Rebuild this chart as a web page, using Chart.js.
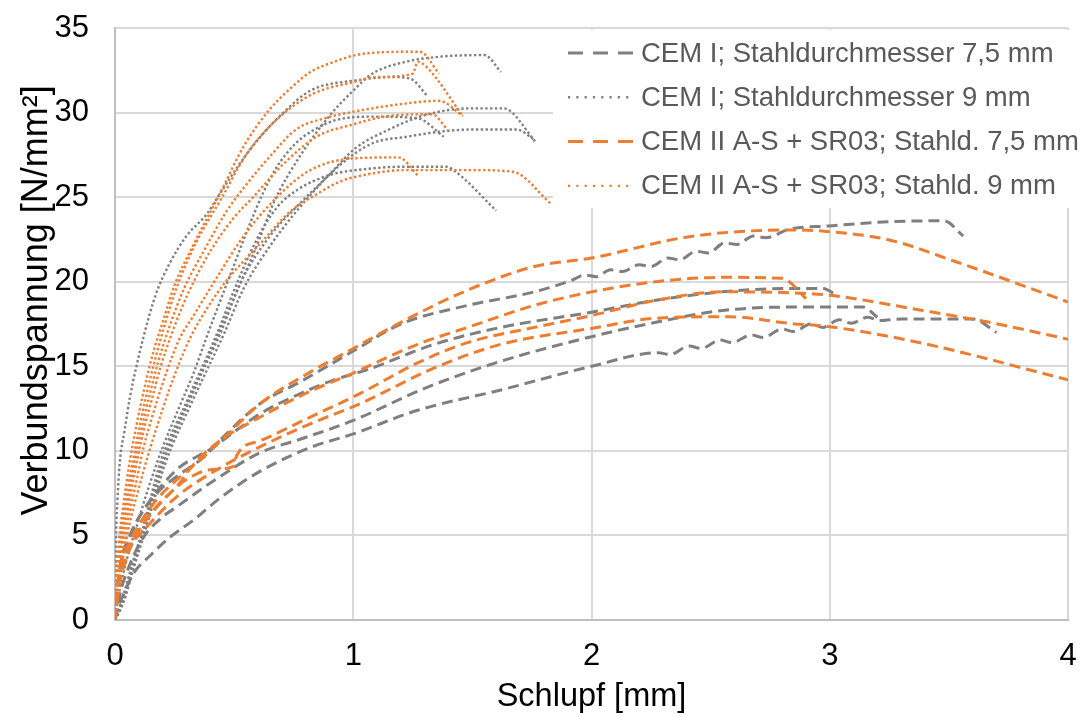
<!DOCTYPE html>
<html>
<head>
<meta charset="utf-8">
<script src="https://cdn.jsdelivr.net/npm/chart.js@4.4.1/dist/chart.umd.min.js"></script>
<style>
  html, body { margin: 0; padding: 0; background: #ffffff; }
  #wrap { width: 1082px; height: 717px; position: relative; }
</style>
</head>
<body>
<div id="wrap"><canvas id="chart"></canvas></div>
<script>
// Verbundspannung-Schlupf curves, pull-out tests; [Schlupf mm, Verbundspannung N/mm²]

// CEM I, steel diameter 7.5 mm
const cem1_75_a = [[0,0],[0.01,1.5],[0.02,3.0],[0.06,4.9],[0.12,6.5],[0.19,7.7],[0.26,8.5],[0.37,9.6],[0.46,10.9],[0.61,12.8],[0.78,14.1],[1.0,15.9],[1.2,17.5],[1.48,18.6],[1.76,19.4],[1.92,20.1],[1.97,20.4],[2.02,20.3],[2.08,20.7],[2.13,20.6],[2.2,21.0],[2.25,20.9],[2.32,21.4],[2.37,21.3],[2.44,21.8],[2.49,21.7],[2.56,22.3],[2.61,22.2],[2.68,22.7],[2.73,22.6],[2.83,23.1],[3.0,23.3],[3.25,23.55],[3.48,23.6],[3.56,22.7]];
const cem1_75_b = [[0,0],[0.01,2.0],[0.03,3.5],[0.07,5.2],[0.12,6.5],[0.26,8.9],[0.4,10.1],[0.61,12.2],[0.78,13.4],[0.92,14.2],[1.06,14.8],[1.34,16.3],[1.62,17.3],[2.0,18.2],[2.27,18.9],[2.55,19.4],[2.83,19.6],[2.97,19.6],[3.03,19.2]];
const cem1_75_c = [[0,0],[0.02,1.5],[0.06,3.2],[0.12,4.9],[0.2,6.1],[0.26,6.7],[0.4,8.1],[0.61,9.9],[0.78,10.7],[1.0,11.8],[1.3,13.7],[1.62,15.3],[2.0,16.75],[2.27,17.6],[2.55,18.3],[2.83,18.5],[3.14,18.5],[3.2,17.9]];
const cem1_75_d = [[0,0],[0.015,0.8],[0.035,1.5],[0.08,2.8],[0.147,3.8],[0.231,4.9],[0.329,5.9],[0.44,7.2],[0.61,8.8],[0.82,10.2],[1.0,11.0],[1.27,12.4],[1.62,13.6],[2.0,15.0],[2.28,15.8],[2.33,15.7],[2.41,16.2],[2.46,16.05],[2.54,16.55],[2.59,16.4],[2.67,16.85],[2.72,16.7],[2.8,17.2],[2.85,17.05],[2.92,17.5],[2.97,17.3],[3.04,17.75],[3.09,17.55],[3.16,17.9],[3.21,17.7],[3.3,17.8],[3.6,17.8],[3.7,17.0]];

// CEM I, steel diameter 9 mm
const cem1_9_a = [[0,0],[0.002,3.0],[0.005,5.3],[0.01,7.0],[0.02,9.3],[0.04,11.2],[0.063,13.2],[0.09,15.0],[0.12,16.75],[0.17,19.2],[0.23,21.1],[0.3,22.7],[0.385,24.0],[0.44,25.2],[0.52,26.9],[0.6,28.4],[0.7,29.9],[0.82,31.3],[1.01,31.9],[1.17,32.1],[1.24,32.0],[1.31,31.0]];
const cem1_9_b = [[0,0],[0.02,1.8],[0.05,3.6],[0.09,5.5],[0.14,7.8],[0.2,10.2],[0.27,12.6],[0.33,14.6],[0.385,16.75],[0.44,18.8],[0.5,21.0],[0.56,23.2],[0.62,25.2],[0.68,26.8],[0.76,28.2],[0.85,29.1],[0.94,29.6],[1.08,29.76],[1.27,29.66],[1.38,28.57]];
const cem1_9_c = [[0,0],[0.03,1.0],[0.07,2.8],[0.12,5.2],[0.2,9.2],[0.32,13.2],[0.44,17.1],[0.53,20.0],[0.6,22.3],[0.67,24.8],[0.78,27.5],[0.9,29.8],[1.0,31.3],[1.08,32.3],[1.22,33.0],[1.36,33.3],[1.55,33.4],[1.62,32.4]];
const cem1_9_d = [[0,0],[0.03,1.1],[0.07,3.0],[0.12,5.4],[0.2,9.3],[0.32,13.3],[0.45,17.2],[0.525,19.9],[0.65,22.7],[0.76,24.4],[0.89,26.2],[1.01,27.9],[1.15,29.0],[1.28,29.76],[1.4,30.15],[1.5,30.25],[1.63,30.25],[1.77,28.2]];
const cem1_9_e = [[0,0],[0.035,1.0],[0.075,2.9],[0.125,5.2],[0.21,9.2],[0.33,13.1],[0.46,17.0],[0.54,19.6],[0.66,22.3],[0.8,24.8],[0.944,26.9],[1.084,28.2],[1.224,28.57],[1.364,28.87],[1.504,29.0],[1.686,29.0],[1.76,28.4]];
const cem1_9_f = [[0,0],[0.03,1.2],[0.07,3.2],[0.115,5.3],[0.19,9.3],[0.31,13.2],[0.43,17.0],[0.5,19.5],[0.595,22.5],[0.68,24.4],[0.762,25.4],[0.9,26.3],[1.08,26.7],[1.22,26.8],[1.39,26.8],[1.43,26.5],[1.6,24.2]];

// CEM II A-S + SR03, steel diameter 7.5 mm
const cem2_75_a = [[0,0],[0.01,1.8],[0.04,3.8],[0.1,5.6],[0.18,7.2],[0.26,8.3],[0.36,9.5],[0.46,10.8],[0.61,12.8],[0.8,14.5],[1.0,16.05],[1.2,17.6],[1.48,19.5],[1.76,20.9],[2.0,21.4],[2.41,22.66],[2.83,23.06],[3.0,22.96],[3.25,22.47],[3.53,21.18],[4.0,18.8]];
const cem2_75_b = [[0,0],[0.01,1.6],[0.04,3.5],[0.1,5.3],[0.18,6.8],[0.26,7.9],[0.33,9.2],[0.44,10.6],[0.61,12.0],[0.8,13.4],[1.0,14.6],[1.27,16.3],[1.48,17.3],[1.76,18.6],[2.0,19.4],[2.27,20.0],[2.55,20.26],[2.8,20.2],[2.83,20.0],[2.9,19.0]];
const cem2_75_c = [[0,0],[0.01,1.4],[0.04,3.3],[0.09,5.0],[0.19,6.9],[0.3,8.3],[0.41,8.9],[0.5,9.1],[0.51,9.7],[0.61,10.6],[0.82,12.0],[1.03,13.4],[1.27,15.2],[1.48,16.4],[1.76,17.3],[2.0,18.0],[2.27,18.9],[2.55,19.4],[2.83,19.35],[3.0,19.2],[3.39,18.3],[3.67,17.6],[4.0,16.6]];
const cem2_75_d = [[0,0],[0.01,1.2],[0.021,3.0],[0.06,4.3],[0.12,5.3],[0.26,7.3],[0.43,8.9],[0.61,10.25],[0.82,11.6],[1.03,12.8],[1.34,14.9],[1.62,16.3],[2.0,17.24],[2.27,17.84],[2.58,17.93],[2.83,17.54],[3.0,17.34],[3.39,16.36],[4.0,14.2]];

// CEM II A-S + SR03, steel diameter 9 mm
const cem2_9_a = [[0,0],[0.005,2.5],[0.015,4.5],[0.035,6.8],[0.06,9.2],[0.09,11.5],[0.12,13.5],[0.16,15.8],[0.2,17.6],[0.25,19.8],[0.33,22.2],[0.44,25.2],[0.54,28.0],[0.65,30.2],[0.75,31.6],[0.82,32.4],[0.92,33.0],[1.01,33.4],[1.1,33.55],[1.28,33.6],[1.36,32.3]];
const cem2_9_b = [[0,0],[0.006,2.2],[0.018,4.3],[0.04,6.6],[0.07,9.0],[0.1,11.2],[0.13,13.2],[0.17,15.5],[0.21,17.5],[0.26,19.7],[0.34,22.3],[0.45,25.0],[0.55,27.5],[0.68,29.6],[0.83,31.1],[1.0,31.8],[1.1,32.1],[1.25,32.3],[1.27,33.0],[1.3,32.8],[1.46,29.8]];
const cem2_9_c = [[0,0],[0.007,2.0],[0.02,4.0],[0.045,6.4],[0.075,8.8],[0.105,10.9],[0.14,13.0],[0.18,15.2],[0.23,17.4],[0.29,19.6],[0.38,22.0],[0.47,24.2],[0.56,25.9],[0.65,27.4],[0.76,29.0],[0.89,29.7],[1.0,30.05],[1.2,30.5],[1.36,30.7],[1.46,29.8]];
const cem2_9_d = [[0,0],[0.008,1.8],[0.022,3.8],[0.05,6.2],[0.08,8.5],[0.11,10.6],[0.15,12.8],[0.19,14.9],[0.24,17.0],[0.31,19.4],[0.4,21.8],[0.5,23.8],[0.58,25.0],[0.71,27.0],[0.85,28.6],[1.0,29.3],[1.15,29.8],[1.33,29.9],[1.4,28.9]];
const cem2_9_e = [[0,0],[0.01,1.6],[0.025,3.5],[0.055,5.9],[0.09,8.2],[0.12,10.2],[0.16,12.2],[0.21,14.4],[0.27,16.6],[0.33,18.0],[0.43,20.3],[0.54,22.7],[0.68,25.0],[0.82,26.6],[1.01,27.3],[1.19,27.35],[1.27,26.3]];
const cem2_9_f = [[0,0],[0.012,1.5],[0.03,3.3],[0.06,5.6],[0.1,7.8],[0.14,9.8],[0.18,11.6],[0.22,13.3],[0.27,15.2],[0.32,16.8],[0.39,18.5],[0.47,20.1],[0.6,22.1],[0.74,24.2],[0.85,25.2],[0.94,25.9],[1.01,26.2],[1.22,26.6],[1.5,26.6],[1.67,26.5],[1.83,24.6]];

// legend entries, in order
const seriesLabels = [
  'CEM I; Stahldurchmesser 7,5 mm',
  'CEM I; Stahldurchmesser 9 mm',
  'CEM II A-S + SR03; Stahld. 7,5 mm',
  'CEM II A-S + SR03; Stahld. 9 mm'
];
const seriesCurves = [
  [cem1_75_a, cem1_75_b, cem1_75_c, cem1_75_d],
  [cem1_9_a, cem1_9_b, cem1_9_c, cem1_9_d, cem1_9_e, cem1_9_f],
  [cem2_75_a, cem2_75_b, cem2_75_c, cem2_75_d],
  [cem2_9_a, cem2_9_b, cem2_9_c, cem2_9_d, cem2_9_e, cem2_9_f]
];

// axis ranges and tick steps
const xRange = [0, 4];
const xStep = 1;
const yRange = [0, 35];
const yStep = 5;

const axisTitleX = 'Schlupf [mm]';
const axisTitleY = 'Verbundspannung [N/mm²]';

// styling per series group
const GREY = '#7f7f7f';
const ORANGE = '#ed7d31';
const styles = [
  { color: GREY,   width: 3,   dash: [11, 6],    legendDash: [15, 10],  order: 4 },
  { color: GREY,   width: 2.4, dash: [2.4, 2.4], legendDash: [2.2, 6.1], order: 3 },
  { color: ORANGE, width: 3,   dash: [11, 6],    legendDash: [15, 10],  order: 2 },
  { color: ORANGE, width: 2.4, dash: [2.4, 2.4], legendDash: [2.2, 6.1], order: 1 }
];

const FONT = "'Liberation Sans', Arial, sans-serif";

const datasets = [];
seriesCurves.forEach((curves, g) => {
  const st = styles[g];
  curves.forEach(curve => {
    datasets.push({
      label: seriesLabels[g],
      data: curve.map(([x, y]) => ({ x, y })),
      showLine: true,
      fill: false,
      borderColor: st.color,
      borderWidth: st.width,
      borderDash: st.dash,
      borderCapStyle: 'butt',
      borderJoinStyle: 'round',
      pointRadius: 0,
      pointHoverRadius: 0,
      cubicInterpolationMode: 'monotone',
      order: st.order
    });
  });
});

// legend box drawn inside the plot, top right, over the grid
const boxLegend = {
  id: 'boxLegend',
  beforeDatasetsDraw(chart) {
    const { ctx, chartArea } = chart;
    const left = chartArea.right - 515;
    const top = chartArea.top + 2;
    const rowH = 44.3;
    const firstRow = chartArea.top + 25;
    ctx.save();
    ctx.fillStyle = '#ffffff';
    ctx.fillRect(left, top, chart.width - left, 178);
    seriesLabels.forEach((label, i) => {
      const st = styles[i];
      const y = firstRow + i * rowH;
      ctx.beginPath();
      ctx.strokeStyle = st.color;
      ctx.lineWidth = st.width;
      ctx.setLineDash(st.legendDash);
      ctx.lineCap = 'butt';
      ctx.moveTo(left + 15, y);
      ctx.lineTo(left + 81, y);
      ctx.stroke();
      ctx.setLineDash([]);
      ctx.fillStyle = '#595959';
      ctx.font = '27.5px ' + FONT;
      ctx.textAlign = 'left';
      ctx.textBaseline = 'middle';
      ctx.fillText(label, left + 88, y + 1);
    });
    ctx.restore();
  }
};

// vertical axis title, set slightly above the middle of the plot
const yAxisTitle = {
  id: 'yAxisTitle',
  afterDraw(chart) {
    const { ctx, chartArea } = chart;
    const cy = chartArea.top + (chartArea.bottom - chartArea.top) * 0.46;
    ctx.save();
    ctx.translate(37, cy);
    ctx.rotate(-Math.PI / 2);
    ctx.font = '36px ' + FONT;
    ctx.fillStyle = '#000000';
    ctx.textAlign = 'center';
    ctx.textBaseline = 'middle';
    ctx.fillText(axisTitleY, 0, 0);
    ctx.restore();
  }
};

new Chart(document.getElementById('chart'), {
  type: 'scatter',
  data: { datasets },
  plugins: [boxLegend, yAxisTitle],
  options: {
    responsive: true,
    maintainAspectRatio: false,
    animation: false,
    events: [],
    layout: { padding: { top: 28, right: 14, left: 0, bottom: 0 } },
    plugins: {
      legend: { display: false },
      tooltip: { enabled: false }
    },
    scales: {
      x: {
        type: 'linear',
        min: xRange[0],
        max: xRange[1],
        afterFit(scale) { scale.height = 97; scale.paddingLeft = 0; scale.paddingRight = 0; },
        ticks: { stepSize: xStep, padding: 18, color: '#000000', font: { family: FONT, size: 31 } },
        grid: { color: '#d9d9d9', lineWidth: 2, drawTicks: false },
        border: { display: true, color: '#bfbfbf', width: 2 },
        title: { display: true, text: axisTitleX, color: '#000000', font: { family: FONT, size: 32.5 }, padding: { top: 0, bottom: 0 } }
      },
      y: {
        type: 'linear',
        min: yRange[0],
        max: yRange[1],
        afterFit(scale) { scale.width = 115; scale.paddingTop = 0; scale.paddingBottom = 0; },
        ticks: { stepSize: yStep, padding: 26, color: '#000000', font: { family: FONT, size: 31 } },
        grid: { color: '#d9d9d9', lineWidth: 2, drawTicks: false },
        border: { display: true, color: '#bfbfbf', width: 2 },
        title: { display: false }
      }
    }
  }
});
</script>
</body>
</html>
